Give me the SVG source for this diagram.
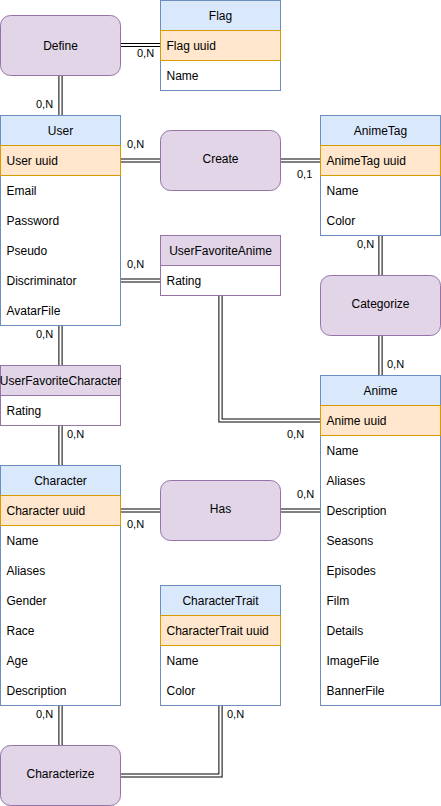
<svg xmlns="http://www.w3.org/2000/svg" width="441" height="806" viewBox="0 0 441 806">
<style>
text{font-family:"Liberation Sans",Arial,sans-serif;font-size:12px;fill:#000}
.lbl{font-size:11px}
.c{text-anchor:middle}
.ent{fill:#fff;stroke:#6c8ebf;stroke-width:1}
.hdr{fill:#dae8fc;stroke:#6c8ebf;stroke-width:1}
.pk{fill:#ffe6cc;stroke:#d79b00;stroke-width:1}
.rel{fill:#e1d5e7;stroke:#9673a6;stroke-width:1}
.ass{fill:#fff;stroke:#9673a6;stroke-width:1}
.lk{fill:none;stroke:#000;stroke-width:4.2}
.lw{fill:none;stroke:#fff;stroke-width:2.2}
</style>
<g id="connectors">
<path class="lk" d="M120 45H160"/><path class="lw" d="M120 45H160"/>
<path class="lk" d="M60.5 75V115"/><path class="lw" d="M60.5 75V115"/>
<path class="lk" d="M120 160.5H160"/><path class="lw" d="M120 160.5H160"/>
<path class="lk" d="M280 160.5H320"/><path class="lw" d="M280 160.5H320"/>
<path class="lk" d="M120 280.5H160"/><path class="lw" d="M120 280.5H160"/>
<path class="lk" d="M220.5 295V420.5H320"/><path class="lw" d="M220.5 295V420.5H320"/>
<path class="lk" d="M380.5 235V275"/><path class="lw" d="M380.5 235V275"/>
<path class="lk" d="M380.5 335V375"/><path class="lw" d="M380.5 335V375"/>
<path class="lk" d="M60.5 325V365"/><path class="lw" d="M60.5 325V365"/>
<path class="lk" d="M60.5 425V465"/><path class="lw" d="M60.5 425V465"/>
<path class="lk" d="M120 510.5H160"/><path class="lw" d="M120 510.5H160"/>
<path class="lk" d="M280 510.5H320"/><path class="lw" d="M280 510.5H320"/>
<path class="lk" d="M60.5 705V745"/><path class="lw" d="M60.5 705V745"/>
<path class="lk" d="M220.5 705V775.5H120"/><path class="lw" d="M220.5 705V775.5H120"/>
<text class="lbl" x="137" y="57">0,N</text>
<text class="lbl" x="36" y="108">0,N</text>
<text class="lbl" x="127" y="148">0,N</text>
<text class="lbl" x="297" y="178">0,1</text>
<text class="lbl" x="127" y="268">0,N</text>
<text class="lbl" x="357" y="248">0,N</text>
<text class="lbl" x="36" y="338">0,N</text>
<text class="lbl" x="387" y="368">0,N</text>
<text class="lbl" x="287" y="438">0,N</text>
<text class="lbl" x="67" y="438">0,N</text>
<text class="lbl" x="297" y="498">0,N</text>
<text class="lbl" x="127" y="528">0,N</text>
<text class="lbl" x="36" y="718">0,N</text>
<text class="lbl" x="227" y="718">0,N</text>
</g>
<g id="define"><rect class="rel" x="0.5" y="15.5" width="120" height="60" rx="10"/><text class="c" x="60.5" y="49.5">Define</text></g>
<g id="flag">
<rect class="ent" x="160.5" y="0.5" width="120" height="90"/>
<rect class="hdr" x="160.5" y="0.5" width="120" height="30"/>
<rect class="pk" x="160.5" y="30.5" width="120" height="30"/>
<text class="c" x="220.5" y="19.5">Flag</text>
<text x="166.5" y="49.5">Flag uuid</text>
<text x="166.5" y="79.5">Name</text>
</g>
<g id="user">
<rect class="ent" x="0.5" y="115.5" width="120" height="210"/>
<rect class="hdr" x="0.5" y="115.5" width="120" height="30"/>
<rect class="pk" x="0.5" y="145.5" width="120" height="30"/>
<text class="c" x="60.5" y="134.5">User</text>
<text x="6.5" y="164.5">User uuid</text>
<text x="6.5" y="194.5">Email</text>
<text x="6.5" y="224.5">Password</text>
<text x="6.5" y="254.5">Pseudo</text>
<text x="6.5" y="284.5">Discriminator</text>
<text x="6.5" y="314.5">AvatarFile</text>
</g>
<g id="create"><rect class="rel" x="160.5" y="130.5" width="120" height="60" rx="10"/><text class="c" x="220.5" y="162.5">Create</text></g>
<g id="animetag">
<rect class="ent" x="320.5" y="115.5" width="120" height="120"/>
<rect class="hdr" x="320.5" y="115.5" width="120" height="30"/>
<rect class="pk" x="320.5" y="145.5" width="120" height="30"/>
<text class="c" x="380.5" y="134.5">AnimeTag</text>
<text x="326.5" y="164.5">AnimeTag uuid</text>
<text x="326.5" y="194.5">Name</text>
<text x="326.5" y="224.5">Color</text>
</g>
<g id="userfavoriteanime">
<rect class="ass" x="160.5" y="235.5" width="120" height="60"/>
<rect class="rel" x="160.5" y="235.5" width="120" height="30"/>
<text class="c" x="220.5" y="254.5">UserFavoriteAnime</text>
<text x="166.5" y="284.5">Rating</text>
</g>
<g id="categorize"><rect class="rel" x="320.5" y="275.5" width="120" height="60" rx="10"/><text class="c" x="380.5" y="307.5">Categorize</text></g>
<g id="userfavoritecharacter">
<rect class="ass" x="0.5" y="365.5" width="120" height="60"/>
<rect class="rel" x="0.5" y="365.5" width="120" height="30"/>
<text class="c" x="60.5" y="384.5">UserFavoriteCharacter</text>
<text x="6.5" y="414.5">Rating</text>
</g>
<g id="anime">
<rect class="ent" x="320.5" y="375.5" width="120" height="330"/>
<rect class="hdr" x="320.5" y="375.5" width="120" height="30"/>
<rect class="pk" x="320.5" y="405.5" width="120" height="30"/>
<text class="c" x="380.5" y="394.5">Anime</text>
<text x="326.5" y="424.5">Anime uuid</text>
<text x="326.5" y="454.5">Name</text>
<text x="326.5" y="484.5">Aliases</text>
<text x="326.5" y="514.5">Description</text>
<text x="326.5" y="544.5">Seasons</text>
<text x="326.5" y="574.5">Episodes</text>
<text x="326.5" y="604.5">Film</text>
<text x="326.5" y="634.5">Details</text>
<text x="326.5" y="664.5">ImageFile</text>
<text x="326.5" y="694.5">BannerFile</text>
</g>
<g id="character">
<rect class="ent" x="0.5" y="465.5" width="120" height="240"/>
<rect class="hdr" x="0.5" y="465.5" width="120" height="30"/>
<rect class="pk" x="0.5" y="495.5" width="120" height="30"/>
<text class="c" x="60.5" y="484.5">Character</text>
<text x="6.5" y="514.5">Character uuid</text>
<text x="6.5" y="544.5">Name</text>
<text x="6.5" y="574.5">Aliases</text>
<text x="6.5" y="604.5">Gender</text>
<text x="6.5" y="634.5">Race</text>
<text x="6.5" y="664.5">Age</text>
<text x="6.5" y="694.5">Description</text>
</g>
<g id="has"><rect class="rel" x="160.5" y="480.5" width="120" height="60" rx="10"/><text class="c" x="220.5" y="512.5">Has</text></g>
<g id="charactertrait">
<rect class="ent" x="160.5" y="585.5" width="120" height="120"/>
<rect class="hdr" x="160.5" y="585.5" width="120" height="30"/>
<rect class="pk" x="160.5" y="615.5" width="120" height="30"/>
<text class="c" x="220.5" y="604.5">CharacterTrait</text>
<text x="166.5" y="634.5">CharacterTrait uuid</text>
<text x="166.5" y="664.5">Name</text>
<text x="166.5" y="694.5">Color</text>
</g>
<g id="characterize"><rect class="rel" x="0.5" y="745.5" width="120" height="60" rx="10"/><text class="c" x="60.5" y="777.5">Characterize</text></g>
</svg>
